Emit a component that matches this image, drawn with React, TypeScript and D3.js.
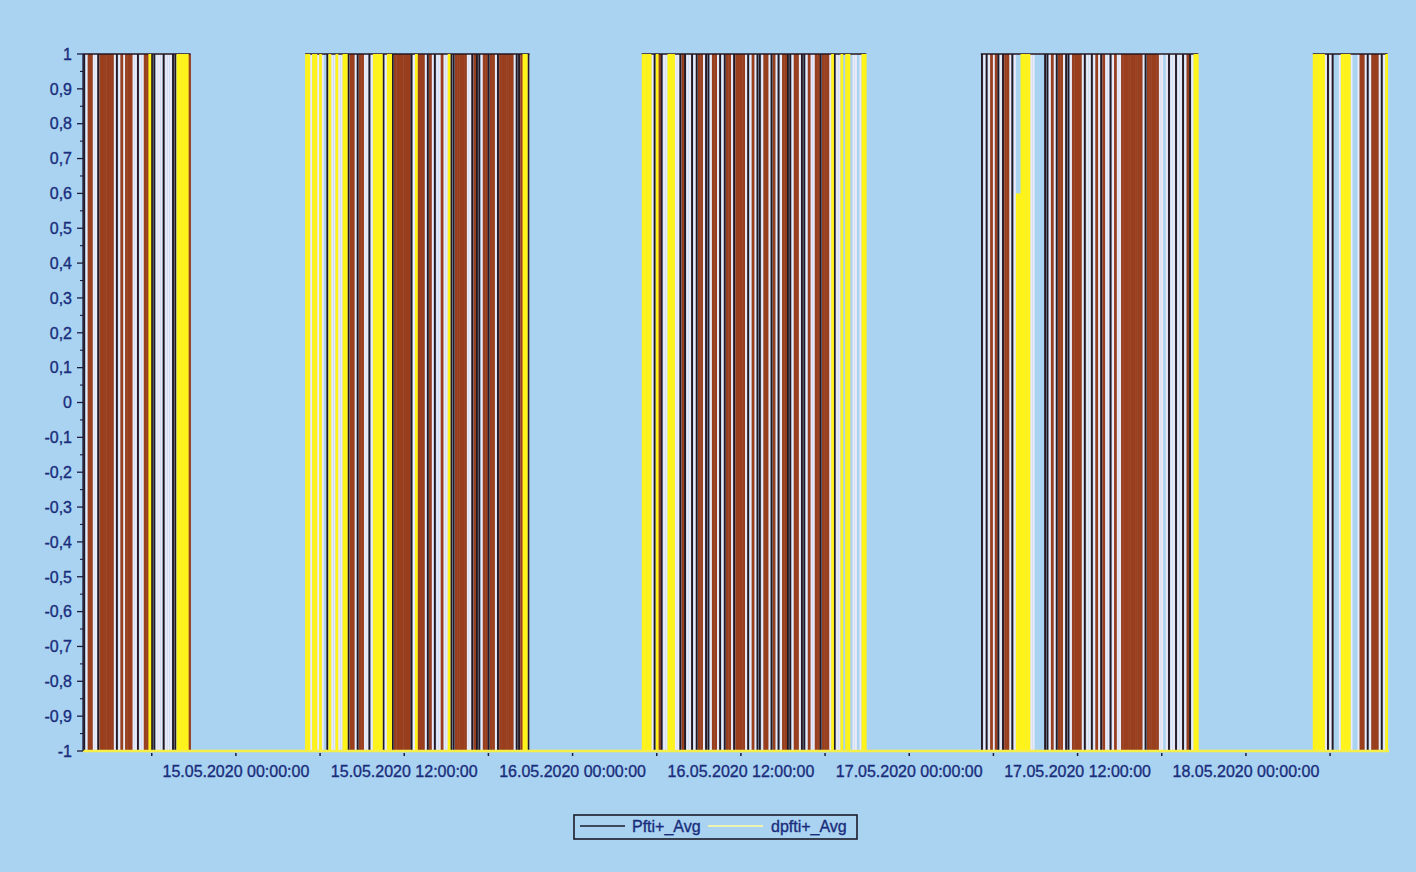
import React from "react";
import * as d3 from "d3";

// ---- data ----
const seriesNames = ["Pfti+_Avg", "dpfti+_Avg"];
const domainStart = "2020-05-14T13:06:00";
const domainEnd = "2020-05-18T10:12:00";
const binMinutes = 10;

// start of each active (daytime) window
const segmentStarts = [
  "2020-05-14T13:06:00",
  "2020-05-15T04:56:00",
  "2020-05-16T04:56:00",
  "2020-05-17T05:06:00",
  "2020-05-18T04:46:00",
];

// Pfti+_Avg per 10-min bin: B = oscillating -1..1, K = single switch, W = held at +1, - = held at -1
const pftiBins = [
  "KWBBWWKBBBBBBWKWBWBBBWWKWWBB-KKWWWKWWWKK-----B",
  "--W--W-W-K" + "-WW-WW--KB" + "BWKBBWWKW-" + "---KW--KBB" + "BBBBBKW-BB" +
    "BWKBWKWWBW" + "W-KKBBBBBW" + "WKBKKWBBKB" + "BWKBBBBBBW" + "KKB--K",
  "----WK-BKW" + "W---WWKBKW" + "WKWKBBWKKW" + "BBWKWKBBWK" + "BBBBWKWBWK" +
    "KWBBWKBWKW" + "BBKKWBBWKK" + "WBWWBBKBBB" + "W-KWW-----" + "WW-W--",
  "KWKWBWBKWK" + "BBWKW-----" + "-WW----KKW" + "BWKBBWKKWB" + "BBBWKWWKWB" +
    "WKBWWKWBWW" + "BBBBBBBBBW" + "KBBBBBWW-W" + "KWWKWWKWBK" + "W--",
  "-----WKWK--W----W--WBBWKWBBBWKW-",
];

// dpfti+_Avg per 10-min bin: Y = oscillating -1..1, y = oscillating -1..0.6, - = held at -1
const dpftiBins = [
  "----------------------------Y-----------YYYYY-",
  "YY-YY-Y---" + "Y--Y--YY--" + "---------Y" + "YYY--YY---" + "-------Y--" +
    "----------" + "-Y--------" + "----------" + "----------" + "---YY-",
  "YYYY--Y---" + "-YYY------" + "----------".repeat(6) + "-Y---Y-YY-" + "----YY",
  "----------" + "-----yyYYY" + "Y---------" + "----------".repeat(6) + "-YY",
  "YYYYY-------YYYY---------------Y",
];

const yTickValues = [-1, -0.9, -0.8, -0.7, -0.6, -0.5, -0.4, -0.3, -0.2, -0.1, 0, 0.1, 0.2, 0.3, 0.4, 0.5, 0.6, 0.7, 0.8, 0.9, 1];
const yTickLabels = ["-1", "-0,9", "-0,8", "-0,7", "-0,6", "-0,5", "-0,4", "-0,3", "-0,2", "-0,1", "0", "0,1", "0,2", "0,3", "0,4", "0,5", "0,6", "0,7", "0,8", "0,9", "1"];
const xTickDates = [
  "2020-05-15T00:00:00", "2020-05-15T12:00:00", "2020-05-16T00:00:00", "2020-05-16T12:00:00",
  "2020-05-17T00:00:00", "2020-05-17T12:00:00", "2020-05-18T00:00:00",
];
const xTickLabels = [
  "15.05.2020 00:00:00", "15.05.2020 12:00:00", "16.05.2020 00:00:00", "16.05.2020 12:00:00",
  "17.05.2020 00:00:00", "17.05.2020 12:00:00", "18.05.2020 00:00:00",
];

// ---- styles ----
const BG = "#a9d3f0";
const BROWN = "#9a3f1d";
const DARK = "#261720";
const PALE = "#ebeaf6";
const YELLOW = "#fff31a";
const TEXT = "#1a2d7c";
const FONT = "'Liberation Sans', Arial, sans-serif";

const W = 1416;
const H = 872;
const left = 83;
const right = 1389;
const top = 54;
const bottom = 751;

type Bin = { t0: Date; t1: Date; code: string };

function expand(patterns: string[]): Bin[] {
  const out: Bin[] = [];
  patterns.forEach((p, s) => {
    const start = new Date(segmentStarts[s]);
    for (let j = 0; j < p.length; j++) {
      const t0 = d3.timeMinute.offset(start, j * binMinutes);
      const t1 = d3.timeMinute.offset(start, (j + 1) * binMinutes);
      out.push({ t0, t1, code: p[j] });
    }
  });
  return out;
}

export default function App() {
  const x = d3.scaleTime().domain([new Date(domainStart), new Date(domainEnd)]).range([left, right]);
  const y = d3.scaleLinear().domain([-1, 1]).range([bottom, top]);

  const pfti = expand(pftiBins);
  const dpfti = expand(dpftiBins);

  const segEnds = pftiBins.map((p, s) => d3.timeMinute.offset(new Date(segmentStarts[s]), p.length * binMinutes));

  const minorY = d3.range(-20, 21).filter((i) => i % 2 !== 0).map((i) => i / 20);
  const minorX = d3.timeHour.every(6)!.range(new Date(domainStart), new Date(domainEnd));

  const textStyle = { stroke: TEXT, strokeWidth: 0.35 };

  return (
    <svg width={W} height={H} style={{ position: "absolute", left: 0, top: 0 }} fontFamily={FONT}>
      <rect x={0} y={0} width={W} height={H} fill={BG} />

      {/* Pfti+_Avg: held-high stretches (pale), oscillation (brown), switches (dark) */}
      <g>
        {pfti.filter((b) => b.code === "W").map((b, i) => (
          <rect key={"w" + i} x={x(b.t0) + 0.3} y={y(1)} width={x(b.t1) - x(b.t0) - 0.3} height={y(-1) - y(1)} fill={PALE} />
        ))}
        {pfti.filter((b) => b.code === "B").map((b, i) => (
          <rect key={"b" + i} x={x(b.t0)} y={y(1)} width={x(b.t1) - x(b.t0) + 0.4} height={y(-1) - y(1)} fill={BROWN} />
        ))}
        {pfti.filter((b) => b.code === "K").map((b, i) => {
          const xm = (x(b.t0) + x(b.t1)) / 2;
          return <line key={"k" + i} x1={xm} x2={xm} y1={y(1)} y2={y(-1)} stroke={DARK} strokeWidth={1.9} />;
        })}
        {segmentStarts.map((s, i) => (
          <line key={"top" + i} x1={x(new Date(s))} x2={x(segEnds[i])} y1={y(1)} y2={y(1)} stroke={DARK} strokeWidth={1.6} />
        ))}
      </g>

      {/* dpfti+_Avg */}
      <g>
        {dpfti.filter((b) => b.code === "Y" || b.code === "y").map((b, i) => (
          <rect
            key={"y" + i}
            x={x(b.t0)}
            y={y(b.code === "Y" ? 1 : 0.6)}
            width={x(b.t1) - x(b.t0) + 0.4}
            height={y(-1) - y(b.code === "Y" ? 1 : 0.6)}
            fill={YELLOW}
          />
        ))}
        <line x1={left} x2={right} y1={y(-1)} y2={y(-1)} stroke="#f6ef4a" strokeWidth={2.5} />
      </g>

      {/* Y axis */}
      <g>
        <line x1={left} x2={left} y1={y(1)} y2={y(-1)} stroke="#1b1b3a" strokeWidth={1.3} />
        {minorY.map((v, i) => (
          <line key={"my" + i} x1={left - 3} x2={left} y1={y(v)} y2={y(v)} stroke="#1b1b3a" strokeWidth={1.1} />
        ))}
        {yTickValues.map((v, i) => (
          <g key={"yt" + i}>
            <line x1={left - 6} x2={left} y1={y(v)} y2={y(v)} stroke="#1b1b3a" strokeWidth={1.3} />
            <text x={left - 11} y={y(v)} dy="0.36em" textAnchor="end" fontSize={16} fill={TEXT} style={textStyle}>
              {yTickLabels[i]}
            </text>
          </g>
        ))}
      </g>

      {/* X axis */}
      <g>
        {minorX.map((d, i) => (
          <line key={"mx" + i} x1={x(d)} x2={x(d)} y1={bottom + 2} y2={bottom + 5} stroke="#1b1b3a" strokeWidth={1.5} />
        ))}
        {xTickDates.map((d, i) => (
          <text key={"xt" + i} x={x(new Date(d))} y={777} textAnchor="middle" fontSize={16} fill={TEXT} style={textStyle}>
            {xTickLabels[i]}
          </text>
        ))}
      </g>

      {/* Legend */}
      <g>
        <rect x={574} y={815} width={283} height={24} fill="none" stroke="#1b1b2a" strokeWidth={1.6} />
        <line x1={580} x2={625} y1={826} y2={826} stroke="#1b1b2a" strokeWidth={1.3} />
        <text x={632} y={832} fontSize={16} fill={TEXT} style={textStyle}>{seriesNames[0]}</text>
        <line x1={708} x2={763} y1={826} y2={826} stroke="#eef3b0" strokeWidth={2} />
        <text x={771} y={832} fontSize={16} fill={TEXT} style={textStyle}>{seriesNames[1]}</text>
      </g>
    </svg>
  );
}
